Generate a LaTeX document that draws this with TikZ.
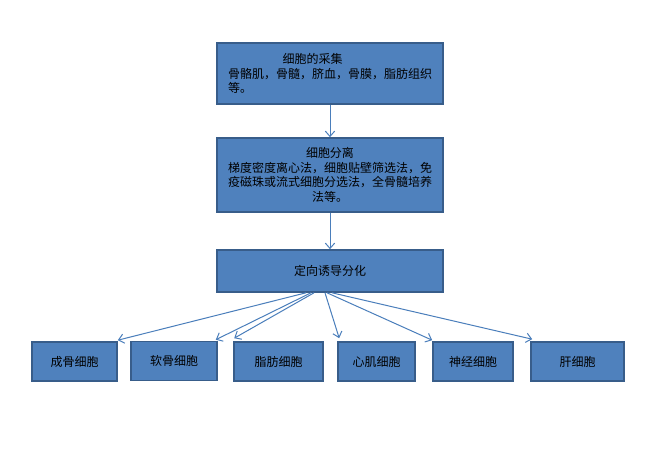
\documentclass[tikz,border=0pt]{standalone}
\usepackage{fontspec}
\newfontfamily\cjk{Noto Sans CJK SC}
\usetikzlibrary{arrows.meta,calc}
\definecolor{boxfill}{HTML}{4F81BD}
\definecolor{boxline}{HTML}{385D8A}
\definecolor{arr}{HTML}{4A7EBB}
\begin{document}
\begin{tikzpicture}[x=0.75pt,y=-0.75pt,
 box/.style={draw=boxline, fill=boxfill, line width=1.2pt, inner sep=0pt,
   font=\cjk\fontsize{9}{11}\selectfont, text=black},
 leaf/.style={box, minimum height=29.25pt},
 conn/.style={draw=arr, line width=0.75pt, -{Straight Barb[length=4pt,width=7pt]}}]
\fill[white] (0,0) rectangle (647,457);
\useasboundingbox (0,0) rectangle (647,457);
\node[box, minimum width=169.5pt, minimum height=45.75pt, align=left] (c1) at (330,73.5)
  {\hspace*{41pt}细胞的采集\\骨骼肌，骨髓，脐血，骨膜，脂肪组织\\等。};
\node[box, minimum width=169.5pt, minimum height=55.5pt, align=center] (c2) at (330,175)
  {细胞分离\\梯度密度离心法，细胞贴壁筛选法，免\\疫磁珠或流式细胞分选法，全骨髓培养\\法等。};
\node[box, minimum width=169.5pt, minimum height=31.5pt] (c3) at (330,271) {定向诱导分化};
\node[leaf, minimum width=63.75pt] (b1) at (74.5,361.5) {成骨细胞};
\node[leaf, minimum width=64.5pt] (b2) at (174,361) {软骨细胞};
\node[leaf, minimum width=66.75pt] (b3) at (278.5,361.5) {脂肪细胞};
\node[leaf, minimum width=57.75pt] (b4) at (376.5,361.5) {心肌细胞};
\node[leaf, minimum width=60pt] (b5) at (473,361.5) {神经细胞};
\node[leaf, minimum width=69.75pt] (b6) at (577.5,361.5) {肝细胞};
\draw[conn] (c1) -- (c2);
\draw[conn] (c2) -- (c3);
\coordinate (s1) at ($(c3.south)+(-24,0)$);
\coordinate (s2) at ($(c3.south)+(-19,0)$);
\coordinate (s3) at ($(c3.south)+(-16,0)$);
\coordinate (s4) at ($(c3.south)+(-5,0)$);
\coordinate (s5) at ($(c3.south)+(-3,0)$);
\coordinate (s6) at ($(c3.south)+(2,0)$);
\coordinate (e1) at ($(b1.north east)+(0,-1)$);
\coordinate (e2) at ($(b2.north east)+(-2,-1)$);
\coordinate (e3) at ($(b3.north west)+(1,-3)$);
\coordinate (e4) at ($(b4.north west)+(2,-3)$);
\coordinate (e5) at ($(b5.north west)+(0,-1)$);
\coordinate (e6) at ($(b6.north west)+(2,-2)$);
\draw[conn] (s1) -- (e1);
\draw[conn] (s2) -- (e2);
\draw[conn] (s3) -- (e3);
\draw[conn] (s4) -- (e4);
\draw[conn] (s5) -- (e5);
\draw[conn] (s6) -- (e6);
\end{tikzpicture}
\end{document}
